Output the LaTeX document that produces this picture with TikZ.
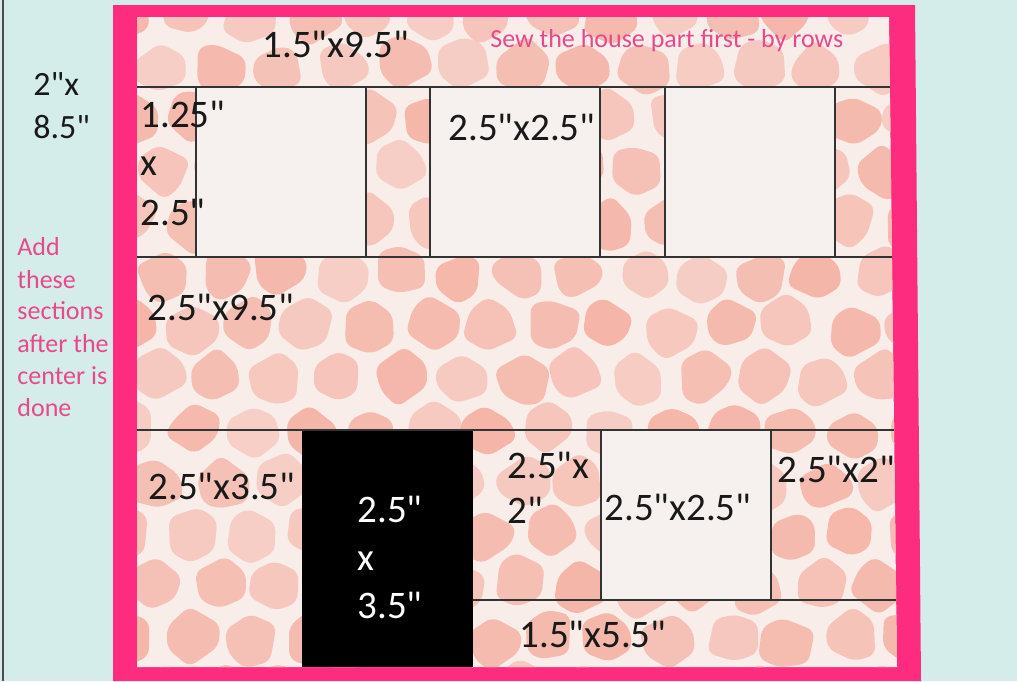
\documentclass[tikz,border=0pt]{standalone}
\usepackage{fontspec}
\setmainfont{Carlito}[Ligatures=TeXOff]
\usetikzlibrary{calc}
\definecolor{linen}{HTML}{D4ECEA}
\definecolor{frame}{HTML}{FD2C7E}
\definecolor{spot}{HTML}{F4B0A2}
\definecolor{hide}{HTML}{F9EDEA}
\definecolor{pane}{HTML}{F6F1EF}
\definecolor{note}{HTML}{E9498B}
\begin{document}
\begin{tikzpicture}[x=0.5pt,y=-0.5pt, seam/.style={draw=black!80,line width=0.7pt}, sz/.style={anchor=base west,inner sep=0pt,font=\fontsize{19.5}{23}\selectfont,text=black!90}, tip/.style={anchor=base west,inner sep=0pt,font=\fontsize{13}{16}\selectfont,text=note}]
  \useasboundingbox (0,0) rectangle (1017,681);
  \fill[linen] (0,0) rectangle (1017,681);
  \draw[black!70,line width=1pt] (3,0) -- (3,681);
  \fill[frame] (113,5) -- (915,5) -- (921,681) -- (113,681) -- cycle;
  \begin{scope}
    \clip (137,17) -- (889,17) -- (897,667) -- (137,667) -- cycle;
    \fill[hide] (130,10) rectangle (900,670);
    \pgfmathsetseed{23}
    \foreach \i in {0,...,13}{\foreach \j in {0,...,13}{
      \pgfmathsetmacro\cx{130+\i*60+mod(\j,2)*30+rand*5}
      \pgfmathsetmacro\cy{14+\j*52+rand*5}
      \pgfmathsetmacro\sh{50+40*rnd}
      \fill[spot!\sh!hide,rounded corners=4pt,shift={(\cx,\cy)}] ({15+30*rnd}:{23+9*rnd}) -- ({80+25*rnd}:{23+9*rnd}) -- ({140+25*rnd}:{23+9*rnd}) -- ({195+30*rnd}:{23+9*rnd}) -- ({260+25*rnd}:{23+9*rnd}) -- ({320+25*rnd}:{23+9*rnd}) -- cycle;
    }}
  \end{scope}
  \foreach \a in {196,430,665}{\draw[seam,fill=pane] (\a,87) rectangle ++(170,170);}
  \draw[seam] (137,87) -- (890,87);
  \draw[seam] (137,257) -- (892,257);
  \fill[black] (302,430) rectangle (473,667);
  \draw[seam,fill=pane] (601,430) rectangle (771,600);
  \draw[seam] (137,430) -- (894,430);
  \draw[seam] (473,600) -- (896,600);
  \node[sz](a) at (262,57) {1.5"x9.5"};
  \node[tip](b) at (490,47) {Sew the house part first - by rows};
  \node[sz,font=\fontsize{17}{20}\selectfont](c1) at (33,95) {2"x};
  \node[sz,font=\fontsize{17}{20}\selectfont](c2) at (33,138) {8.5"};
  \node[sz](d1) at (140,127) {1.25"};
  \node[sz](d2) at (140,175) {x};
  \node[sz](d3) at (140,225) {2.5"};
  \node[sz](e) at (448,140) {2.5"x2.5"};
  \node[sz](f) at (147,320) {2.5"x9.5"};
  \node[sz](g) at (148,499) {2.5"x3.5"};
  \node[sz,text=white](h1) at (357,522) {2.5"};
  \node[sz,text=white](h2) at (357,570) {x};
  \node[sz,text=white](h3) at (357,618) {3.5"};
  \node[sz](k1) at (507,478) {2.5"x};
  \node[sz](k2) at (507,523) {2"};
  \node[sz](m) at (604,520) {2.5"x2.5"};
  \node[sz](n) at (777,482) {2.5"x2"};
  \node[sz](p) at (519,647) {1.5"x5.5"};
  \foreach \t/\y [count=\i] in {Add/255,these/288,sections/319,after the/352,center is/384,done/416}{\node[tip](q\i) at (17,\y) {\t};}
\end{tikzpicture}
\end{document}
